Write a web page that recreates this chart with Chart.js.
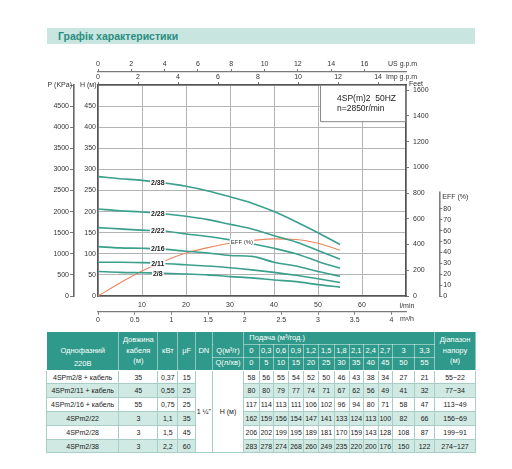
<!DOCTYPE html>
<html><head><meta charset="utf-8">
<script src="https://cdn.jsdelivr.net/npm/chart.js@4/dist/chart.umd.min.js"></script>
<style>
html,body{margin:0;padding:0;background:#fff;width:512px;height:469px;overflow:hidden;font-family:"Liberation Sans",Arial,sans-serif;}
#wrap{position:absolute;left:0;top:0;width:512px;height:330px;}
#title{position:absolute;left:47px;top:28px;width:428px;height:16px;background:#c8e5e0;color:#2a8e7f;font-weight:bold;font-size:10.5px;line-height:16px;padding-left:11px;box-sizing:border-box;}
#tbl{position:absolute;left:46px;top:331px;width:430px;border-collapse:collapse;table-layout:fixed;font-size:7px;color:#1a1a1a;}
#tbl th{background:#2f9a8b;color:#fff;font-weight:normal;font-size:7.5px;border:1px solid rgba(255,255,255,0.45);padding:0;text-align:center;line-height:10.5px;}
#tbl tr.h{height:12.9px;}
#tbl tr.b{height:13.8px;}
#tbl td{border:1px solid #a8cfc7;padding:0;text-align:center;white-space:nowrap;}
#tbl tr.alt td{background:#d0e9e3;}
#tbl tr td.w{background:#fff;}
</style></head>
<body>
<div id="title">Графік характеристики</div>
<div id="wrap"><canvas id="c" width="512" height="330"></canvas></div>
<table id="tbl"></table>
<script>
// ---- data ----
const flowLmin = [0,5,10,15,20,25,30,35,40,45,50,55];
const flowM3h  = [0,0.3,0.6,0.9,1.2,1.5,1.8,2.1,2.4,2.7,3,3.3];
const curveNames = ['2/8','2/11','2/16','2/22','2/28','2/38'];
const head2_8  = [58,56,55,54,52,50,46,43,38,34,27,21];
const head2_11 = [80,80,79,77,74,71,67,62,56,49,41,32];
const head2_16 = [117,114,113,111,106,102,96,94,80,71,58,47];
const head2_22 = [162,159,156,154,147,141,133,124,113,100,82,66];
const head2_28 = [206,202,199,195,189,181,170,159,143,128,108,87];
const head2_38 = [283,278,274,268,260,249,235,220,200,176,150,122];
const effPct   = [0,12,23,32,39.5,44.5,48.5,51,52.5,52,48.5,42];
const models   = ['4SPm2/8 + кабель','4SPm2/11 + кабель','4SPm2/16 + кабель','4SPm2/22','4SPm2/28','4SPm2/38'];
const cableLen = [35,45,55,3,3,3];
const powerKw  = ['0,37','0,55','0,75','1,1','1,5','2,2'];
const capUf    = [15,25,25,35,45,60];
const headRange= ['55~22','77~34','113~49','156~69','199~91','274~127'];
// tick labels
const tickLmin = [0,10,20,30,40,50,60,70];
const tickM3h  = [0,0.5,1,1.5,2,2.5,3,3.5,4];
const tickUs   = [0,2,4,6,8,10,12,14,16];
const tickImp  = [0,2,4,6,8,10,12,14];
const tickH    = [0,50,100,150,200,250,300,350,400,450,500];
const tickP    = [0,500,1000,1500,2000,2500,3000,3500,4000,4500,5000];
const tickFt   = [0,200,400,600,800,1000,1200,1400,1600];
const tickEff  = [0,10,20,30,40,50,60,70,80];

const heads = [head2_8,head2_11,head2_16,head2_22,head2_28,head2_38];
const xMax = 70, hMax = 500, effMax = 194;

// ---- table ----
(function(){
  const t = document.getElementById('tbl');
  let h = '<colgroup>';
  const cw = [72.3,39,20,17.7,16.7,31.6,15.2,14.5,15,15,15,15.5,15,14.5,14.5,14.5,22,20,40.8];
  cw.forEach(w=>{h+='<col style="width:'+w+'px">';});
  h += '</colgroup>';
  const fmt = v => String(v).replace('.',',');
  h += '<tr class="h"><th rowspan="3" style="vertical-align:bottom;line-height:13px">Однофазний<br>220В</th>'+
       '<th rowspan="3">Довжина<br>кабеля<br>(м)</th><th rowspan="3">кВт</th><th rowspan="3">μF</th><th rowspan="3">DN</th>'+
       '<th style="border-bottom-color:transparent"></th><th colspan="12" style="text-align:left;padding-left:5px">Подача (м³/год.)</th>'+
       '<th rowspan="3">Діапазон<br>напору<br>(м)</th></tr>';
  h += '<tr class="h"><th>Q(м³/г)</th>' + flowM3h.map(v=>'<th>'+fmt(v)+'</th>').join('') + '</tr>';
  h += '<tr class="h"><th>Q(л/хв)</th>' + flowLmin.map(v=>'<th>'+v+'</th>').join('') + '</tr>';
  models.forEach((m,i)=>{
    h += '<tr class="b'+(i%2?' alt':'')+'"><td>'+m+'</td><td>'+cableLen[i]+'</td><td>'+powerKw[i]+'</td><td>'+capUf[i]+'</td>';
    if(i===0) h += '<td rowspan="6" class="w">1 ¼"</td><td rowspan="6" class="w">H (м)</td>';
    h += heads[i].map(v=>'<td>'+v+'</td>').join('');
    h += '<td>'+headRange[i]+'</td></tr>';
  });
  t.innerHTML = h;
})();

// ---- chart ----
const FONT = '"Liberation Sans", Arial, sans-serif';
Chart.defaults.font.family = FONT;
Chart.defaults.font.size = 7;
Chart.defaults.color = '#333';

const setTicks = arr => s => { s.ticks = arr.map(v=>({value:v})); };
const fixW = w => s => { s.width = w; };
const fixH = hh => s => { s.height = hh; };
const plain = v => String(v);

function interp(xs, ys, x){
  for(let i=0;i<xs.length-1;i++){
    if(x>=xs[i] && x<=xs[i+1]){ const f=(x-xs[i])/(xs[i+1]-xs[i]); return ys[i]+(ys[i+1]-ys[i])*f; }
  }
  return ys[ys.length-1];
}

const teal = '#3a9f8d', orange = '#e8875c';
const datasets = heads.map((hd,i)=>({
  label: curveNames[i], data: flowLmin.map((q,j)=>({x:q,y:hd[j]})),
  borderColor: teal, borderWidth: 1.6, pointRadius: 0, tension: 0.3, cubicInterpolationMode:'monotone',
  xAxisID:'x', yAxisID:'y'
}));
datasets.push({label:'EFF (%)', data: flowLmin.map((q,j)=>({x:q,y:effPct[j]})),
  borderColor: orange, borderWidth: 1.1, pointRadius: 0, cubicInterpolationMode:'monotone', xAxisID:'x', yAxisID:'eff'});

const deco = {
  id:'deco',
  beforeDatasetsDraw(chart){
    const {ctx, chartArea:a} = chart;
    ctx.save();
    const bx = a.right-86, by = a.top, bw = 86, bh = 36.7;
    ctx.fillStyle = '#fff';
    ctx.fillRect(bx, by+0.8, bw-0.8, bh-0.8);
    ctx.strokeStyle = '#888'; ctx.lineWidth = 1;
    ctx.beginPath(); ctx.moveTo(bx+0.5, by); ctx.lineTo(bx+0.5, by+bh); ctx.lineTo(a.right, by+bh); ctx.stroke();
    ctx.fillStyle = '#222'; ctx.font = '8.5px '+FONT; ctx.textAlign='left'; ctx.textBaseline='middle';
    ctx.fillText('4SP(m)2  50HZ', bx+17, by+14);
    ctx.fillText('n=2850r/min', bx+17, by+24);
    ctx.restore();
  },
  afterDatasetsDraw(chart){
    const {ctx, scales:s} = chart;
    ctx.save();
    ctx.textAlign='center'; ctx.textBaseline='middle';
    ctx.font = 'bold 7px '+FONT;
    const lx = 13.6;
    heads.forEach((hd,i)=>{
      const px = s.x.getPixelForValue(lx), py = s.y.getPixelForValue(interp(flowLmin, hd, lx));
      const w = ctx.measureText(curveNames[i]).width;
      ctx.fillStyle='#fff'; ctx.fillRect(px-w/2-1, py-3.5, w+2, 7);
      ctx.fillStyle='#222'; ctx.fillText(curveNames[i], px, py+0.5);
    });
    ctx.font = '6px '+FONT;
    const ex = 32.7, epx = s.x.getPixelForValue(ex), epy = s.eff.getPixelForValue(interp(flowLmin, effPct, ex));
    const ew = ctx.measureText('EFF (%)').width;
    ctx.fillStyle='#fff'; ctx.fillRect(epx-ew/2-1, epy-3, ew+2, 6);
    ctx.fillStyle='#333'; ctx.fillText('EFF (%)', epx, epy+0.5);
    ctx.restore();
  },
  afterDraw(chart){
    const {ctx, chartArea:a, scales:s} = chart;
    ctx.save();
    ctx.strokeStyle='#777'; ctx.lineWidth=1.5;
    ctx.beginPath(); ctx.moveTo(s.eff.left+0.5, s.eff.getPixelForValue(0)); ctx.lineTo(s.eff.left+0.5, s.eff.getPixelForValue(96)); ctx.stroke();
    ctx.fillStyle='#333'; ctx.font='7px '+FONT; ctx.textBaseline='middle';
    ctx.textAlign='right';
    ctx.fillText('P (KPa)', s.p.right-2, a.top);
    ctx.fillText('H (м)', s.y.right-1.5, a.top);
    ctx.textAlign='left';
    ctx.fillText('Feet', s.ft.left+3, a.top-1);
    ctx.fillText('EFF (%)', s.eff.left+3, s.eff.getPixelForValue(91));
    ctx.fillText('US g.p.m', a.right-18, s.us.bottom-7.5);
    ctx.fillText('Imp g.p.m', a.right-20, s.imp.bottom-7.7);
    ctx.textAlign='center';
    ctx.fillText('l/min', a.right+1, s.x.top+9.7);
    ctx.fillText('m³/h', a.right+1, s.m3h.top+7);
    ctx.restore();
  }
};

const gridC = '#b3b3b3', frameC = '#555', axC = '#7a7a7a';
new Chart(document.getElementById('c'), {
  type:'line',
  data:{datasets},
  options:{
    responsive:false, animation:false, devicePixelRatio:1,
    layout:{padding:{left:0,right:0,top:55,bottom:4.3}},
    plugins:{legend:{display:false}, tooltip:{enabled:false}},
    scales:{
      x:{type:'linear', position:'bottom', min:0, max:xMax, weight:0,
         afterBuildTicks:setTicks(tickLmin), afterFit:fixH(15.7),
         grid:{color:gridC, lineWidth:1, drawTicks:false},
         border:{color:frameC, width:1.5},
         ticks:{padding:5, autoSkip:false, maxRotation:0, callback:v=>(v===0||v===xMax)?'':String(v)}},
      m3h:{type:'linear', axis:'x', position:'bottom', min:0, max:xMax*0.06, weight:1,
         afterBuildTicks:setTicks(tickM3h), afterFit:fixH(14),
         grid:{drawOnChartArea:false, tickLength:3, tickColor:axC},
         border:{color:axC, width:1.2},
         ticks:{padding:1, autoSkip:false, maxRotation:0, callback:plain}},
      imp:{type:'linear', axis:'x', position:'top', min:0, max:xMax/4.54609, weight:0,
         afterBuildTicks:setTicks(tickImp), afterFit:fixH(13),
         grid:{drawOnChartArea:false, tickLength:3, tickColor:axC},
         border:{color:frameC, width:1.5},
         ticks:{padding:1, autoSkip:false, maxRotation:0, callback:plain}},
      us:{type:'linear', axis:'x', position:'top', min:0, max:xMax/3.78541, weight:1,
         afterBuildTicks:setTicks(tickUs), afterFit:fixH(17),
         grid:{drawOnChartArea:false, tickLength:3, tickColor:axC},
         border:{color:axC, width:1.2},
         ticks:{padding:1, autoSkip:false, maxRotation:0, callback:plain}},
      y:{type:'linear', position:'left', min:0, max:hMax, weight:0,
         afterBuildTicks:setTicks(tickH), afterFit:fixW(24),
         grid:{color:gridC, lineWidth:1, drawTicks:false},
         border:{color:frameC, width:1.5},
         ticks:{padding:2, autoSkip:false, callback:v=>v===hMax?'':String(v)}},
      p:{type:'linear', position:'left', min:0, max:hMax*10, weight:1,
         afterBuildTicks:setTicks(tickP), afterFit:fixW(74),
         grid:{drawOnChartArea:false, tickLength:4, tickColor:axC},
         border:{color:'#666', width:1.6},
         ticks:{padding:1, autoSkip:false, callback:v=>v===hMax*10?'':String(v)}},
      ft:{type:'linear', position:'right', min:0, max:hMax/0.3048, weight:0,
         afterBuildTicks:setTicks(tickFt), afterFit:fixW(33.3),
         grid:{drawOnChartArea:false, tickLength:3, tickColor:axC},
         border:{color:frameC, width:1.5},
         ticks:{padding:4, autoSkip:false, callback:plain}},
      eff:{type:'linear', position:'right', min:0, max:effMax, weight:1,
         afterBuildTicks:setTicks(tickEff), afterFit:fixW(72.7),
         grid:{drawOnChartArea:false, tickLength:3, tickColor:axC},
         border:{display:false},
         ticks:{padding:1, autoSkip:false, callback:plain}}
    }
  },
  plugins:[deco]
});
</script>
</body></html>
